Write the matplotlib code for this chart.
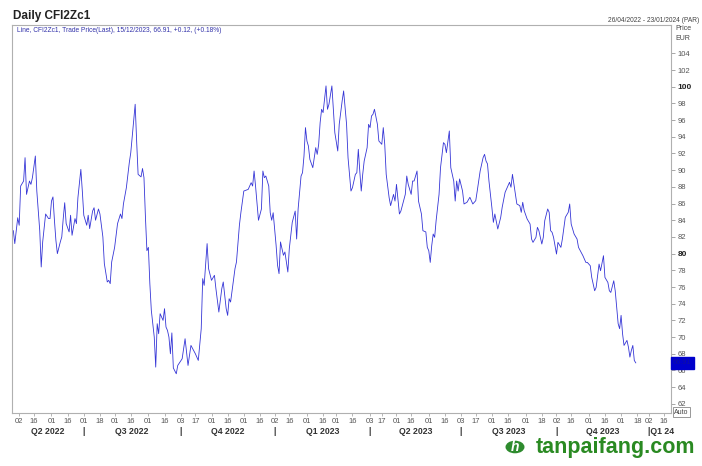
import numpy as np
import pandas as pd
import matplotlib
matplotlib.use("Agg")
import matplotlib.pyplot as plt
import matplotlib.transforms as mtransforms
from matplotlib.patches import Circle

plt.rcParams['font.family'] = ['Liberation Sans', 'DejaVu Sans']

# trading sessions counted from 26/04/2022 (index into the exchange calendar)
session = [0, 1, 3, 4, 5, 7, 8, 9, 11, 12, 13, 15, 16, 18, 19, 20, 22, 24, 25, 26,
           27, 28, 29, 30, 32, 33, 34, 35, 36, 38, 39, 40, 42, 43, 44, 46, 47, 48, 50, 51,
           52, 54, 55, 56, 58, 59, 61, 62, 64, 65, 66, 67, 69, 71, 73, 74, 75, 77, 79, 80,
           82, 83, 84, 85, 87, 88, 89, 90, 91, 92, 93, 94, 96, 97, 98, 99, 100, 102, 103, 104,
           105, 106, 107, 108, 109, 111, 112, 115, 117, 119, 121, 124, 126, 128, 129, 130, 132, 133, 135, 137,
           138, 140, 142, 143, 145, 146, 147, 148, 151, 152, 154, 155, 157, 160, 161, 162, 163, 164, 165, 166,
           167, 169, 170, 171, 172, 174, 175, 176, 177, 179, 180, 181, 182, 184, 185, 187, 188, 190, 192, 193,
           194, 196, 197, 198, 199, 200, 201, 202, 204, 206, 207, 208, 209, 210, 211, 213, 214, 215, 217, 218,
           219, 221, 222, 224, 225, 227, 228, 230, 231, 233, 234, 235, 236, 237, 238, 239, 241, 242, 243, 244,
           245, 246, 248, 249, 251, 252, 253, 254, 256, 257, 259, 260, 261, 263, 264, 267, 268, 269, 271, 272,
           273, 275, 276, 278, 279, 281, 282, 283, 284, 285, 286, 287, 288, 290, 291, 293, 294, 295, 297, 298,
           300, 301, 302, 303, 304, 306, 307, 309, 311, 313, 315, 316, 318, 320, 321, 322, 323, 324, 326, 327,
           328, 330, 332, 333, 335, 336, 338, 339, 340, 342, 343, 345, 346, 347, 348, 350, 352, 353, 354, 356,
           357, 358, 360, 361, 362, 364, 365, 366, 367, 368, 370, 371, 373, 374, 376, 378, 379, 380, 382, 384,
           385, 388, 390, 391, 393, 394, 396, 397, 399, 400, 402, 403, 405, 406, 407, 409, 410, 411, 412, 413,
           414, 415, 416, 418, 419, 420, 421, 422, 423, 424]
price = [82.75, 81.2, 84.3, 83.4, 88.1, 88.7, 91.5, 87.1, 88.7, 88.3, 89.1, 91.7, 87.5, 82.75, 78.4, 81.4, 84.75, 84.2, 84.2, 86.3,
         86.8, 84.0, 81.6, 80.0, 81.4, 82.0, 84.2, 86.1, 83.6, 82.6, 84.6, 82.2, 84.2, 83.6, 86.7, 90.1, 87.5, 84.6, 83.4, 84.6,
         83.0, 85.1, 85.5, 84.0, 85.35, 84.75, 82.0, 78.8, 76.6, 76.8, 76.4, 79.0, 80.75, 83.6, 84.75, 84.2, 85.95, 87.9, 90.9, 92.1,
         95.9, 97.9, 93.5, 89.5, 89.2, 90.2, 89.1, 84.35, 80.35, 80.75, 76.4, 73.2, 70.0, 66.4, 71.6, 70.4, 72.8, 72.0, 73.4, 71.2,
         70.8, 70.0, 68.0, 70.5, 66.3, 65.6, 66.6, 67.4, 69.8, 66.6, 69.0, 68.0, 67.2, 71.0, 77.0, 76.2, 81.2, 78.2, 76.8, 77.4,
         75.8, 73.0, 75.8, 76.6, 73.4, 72.6, 74.6, 74.2, 78.2, 79.0, 83.4, 84.9, 87.5, 87.7, 88.1, 88.5, 88.1, 89.9, 88.1, 86.1,
         84.0, 85.35, 89.9, 89.1, 89.3, 88.1, 84.9, 84.0, 84.9, 81.0, 78.6, 77.6, 81.4, 79.8, 80.2, 77.8, 80.6, 83.75, 85.1, 81.75,
         85.35, 89.3, 89.7, 91.7, 95.1, 93.5, 92.9, 91.3, 90.3, 92.7, 91.9, 93.1, 95.7, 97.3, 96.9, 100.1, 97.3, 97.9, 100.1, 97.3,
         94.5, 92.3, 95.5, 98.3, 99.5, 95.5, 91.5, 87.5, 87.9, 89.5, 89.7, 92.5, 89.9, 87.5, 89.5, 91.1, 92.7, 95.5, 95.1, 96.5,
         96.7, 97.3, 95.5, 93.5, 93.1, 95.1, 93.1, 89.5, 86.7, 85.75, 87.1, 86.3, 88.3, 84.75, 85.1, 87.1, 89.3, 88.3, 87.1, 88.7,
         88.7, 89.9, 86.3, 84.75, 82.75, 82.6, 80.75, 80.35, 78.95, 80.95, 82.35, 81.95, 83.95, 87.1, 90.3, 93.3, 93.1, 92.1, 94.7, 90.3,
         88.7, 86.3, 88.7, 87.5, 88.95, 87.5, 85.95, 86.15, 86.75, 85.95, 86.35, 87.5, 89.9, 91.5, 91.9, 91.1, 90.75, 88.7, 85.5, 83.75,
         84.75, 82.95, 84.35, 85.55, 87.35, 87.75, 88.55, 87.95, 89.5, 87.15, 85.95, 85.75, 84.95, 86.15, 85.15, 84.15, 83.55, 81.75, 81.35, 81.95,
         83.15, 82.75, 81.15, 81.95, 83.95, 85.35, 84.95, 82.75, 82.55, 81.95, 79.95, 81.35, 80.75, 81.75, 84.35, 84.95, 85.95, 83.55, 82.35, 81.75,
         80.75, 79.75, 78.95, 78.95, 78.55, 77.15, 75.55, 75.95, 78.75, 77.95, 79.75, 77.15, 76.55, 75.55, 75.35, 76.75, 75.55, 73.55, 71.6, 71.0,
         72.6, 70.4, 69.0, 69.6, 68.8, 67.6, 68.4, 69.0, 67.2, 66.91]

holidays = ['2022-12-26', '2023-04-07', '2023-04-10', '2023-05-01',
            '2023-12-25', '2023-12-26', '2024-01-01']

tick_dates = ['2022-05-02', '2022-05-16', '2022-06-01', '2022-06-16', '2022-07-01', '2022-07-18',
              '2022-08-01', '2022-08-16', '2022-09-01', '2022-09-16', '2022-10-03', '2022-10-17',
              '2022-11-01', '2022-11-16', '2022-12-01', '2022-12-16', '2023-01-02', '2023-01-16',
              '2023-02-01', '2023-02-16', '2023-03-01', '2023-03-16', '2023-04-03', '2023-04-17',
              '2023-05-02', '2023-05-16', '2023-06-01', '2023-06-16', '2023-07-03', '2023-07-17',
              '2023-08-01', '2023-08-16', '2023-09-01', '2023-09-18', '2023-10-02', '2023-10-16',
              '2023-11-01', '2023-11-16', '2023-12-01', '2023-12-18', '2024-01-02', '2024-01-16']
tick_labels = ['02', '16', '01', '16', '01', '18', '01', '16', '01', '16', '03', '17',
               '01', '16', '01', '16', '02', '16', '01', '16', '01', '16', '03', '17',
               '01', '16', '01', '16', '03', '17', '01', '16', '01', '18', '02', '16',
               '01', '16', '01', '18', '02', '16']
quarter_starts = ['2022-07-01', '2022-10-03', '2023-01-02', '2023-04-03',
                  '2023-07-03', '2023-10-02', '2024-01-02']
quarter_names = ['Q2 2022', 'Q3 2022', 'Q4 2022', 'Q1 2023', 'Q2 2023', 'Q3 2023', 'Q4 2023']

# exchange calendar -> position on the axis
cal = pd.bdate_range('2022-04-26', '2024-01-31')
cal = cal[~cal.isin(pd.to_datetime(holidays))]


def pos(d):
    return cal.searchsorted(pd.Timestamp(d))


W, H = 702, 466
fig = plt.figure(figsize=(W / 100, H / 100), dpi=100)
ax = fig.add_axes([12 / W, 1 - 413 / H, (671 - 12) / W, (413 - 25) / H])

ax.plot(session, price, color='#3535d6', lw=0.6)

ax.set_xlim(-0.9, 448)
ax.set_ylim(60.9, 107.4)

for s in ax.spines.values():
    s.set_color('#b0b0b0')
    s.set_linewidth(0.8)

ax.yaxis.tick_right()
ax.set_yticks(np.arange(62, 105, 2))
ax.tick_params(axis='y', length=3, width=0.6, color='#999999', labelsize=5.5,
               labelcolor='#555555', pad=1.5)
for lab in ax.get_yticklabels():
    if lab.get_text() in ('80', '100'):
        lab.set_fontweight('bold')
        lab.set_color('#222222')
        lab.set_fontsize(6)

ax.set_xticks([pos(d) for d in tick_dates])
ax.set_xticklabels(tick_labels)
ax.tick_params(axis='x', length=2, width=0.5, color='#999999', labelsize=5.5,
               labelcolor='#555555', pad=1.5)

# quarter labels and separators
qpos = [pos(d) for d in quarter_starts]
edges = [-0.9] + qpos
for i, name in enumerate(quarter_names):
    mid = (edges[i] + edges[i + 1]) / 2
    ax.annotate(name, xy=(mid, 0), xycoords=('data', 'axes fraction'),
                xytext=(0, -13.5), textcoords='offset points', ha='center', va='center',
                fontsize=6.3, fontweight='bold', color='#333333')
for i, q in enumerate(qpos):
    txt = '|Q1 24' if i == len(qpos) - 1 else '|'
    ax.annotate(txt, xy=(q, 0), xycoords=('data', 'axes fraction'),
                xytext=(-1, -13.5), textcoords='offset points', ha='left', va='center',
                fontsize=6.3, fontweight='bold', color='#333333')

# last price marker on the scale
trans = mtransforms.blended_transform_factory(ax.transAxes, ax.transData)
ax.text(1.003, price[-1], '66.91', transform=trans, ha='left', va='center',
        fontsize=5.3, color='#1010a0',
        bbox=dict(boxstyle='square,pad=0.3', fc='#0000cc', ec='#0000cc'))

# header texts
fig.text(13 / W, 1 - 16 / H, 'Daily CFI2Zc1', fontsize=8.5, fontweight='bold',
         color='#222222', va='center')
fig.text(17 / W, 1 - 30 / H, 'Line, CFI2Zc1, Trade Price(Last), 15/12/2023, 66.91, +0.12, (+0.18%)',
         fontsize=4.8, color='#3333aa', va='center')
fig.text(699 / W, 1 - 20 / H, '26/04/2022 - 23/01/2024 (PAR)', fontsize=4.8, color='#444444',
         va='center', ha='right')
fig.text(675 / W, 1 - 29 / H, 'Price', fontsize=5, color='#444444', va='center')
fig.text(675 / W, 1 - 38 / H, 'EUR', fontsize=5, color='#444444', va='center')
fig.text(674 / W, 1 - 412 / H, 'Auto', fontsize=5, color='#444444', va='center',
         bbox=dict(boxstyle='square,pad=0.15', fc='white', ec='#888888', lw=0.6))

# watermark
fig.patches.append(Circle((515 / W, 1 - 447 / H), 9.5 / W, transform=fig.transFigure,
                          fc='#2e8b2e', ec='none'))
fig.text(515 / W, 1 - 447 / H, 'h', fontsize=10, fontweight='bold', color='white',
         ha='center', va='center', style='italic')
fig.text(536 / W, 1 - 448 / H, 'tanpaifang.com', fontsize=15.5, fontweight='bold',
         color='#2a8a22', ha='left', va='center')

fig.savefig('out.png', dpi=100)
